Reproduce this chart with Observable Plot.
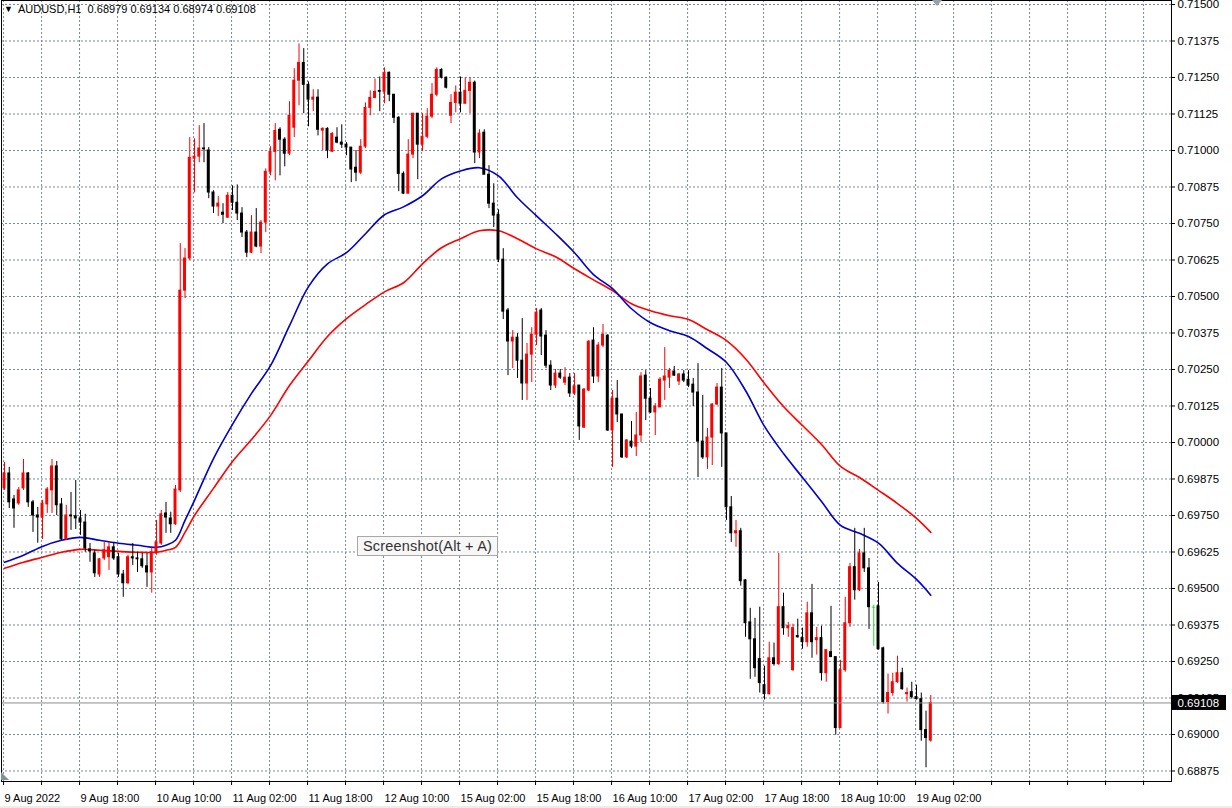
<!DOCTYPE html>
<html><head><meta charset="utf-8">
<script src="https://cdn.jsdelivr.net/npm/d3@7"></script>
<script src="https://cdn.jsdelivr.net/npm/@observablehq/plot@0.6"></script>
<style>
html,body{margin:0;padding:0;background:#fff;}
#wrap{position:relative;width:1232px;height:808px;overflow:hidden;font-family:"Liberation Sans",Arial,sans-serif;}
#hdr{position:absolute;left:4px;top:3px;font-size:11px;color:#000;white-space:pre;}
#hdr .tri{font-size:9px;vertical-align:1px;margin-right:5px;}
#shot{position:absolute;left:357px;top:536px;width:139px;height:18px;border:1px solid #a8a8a8;background:#f7f7f7;font-size:14.5px;letter-spacing:0.2px;color:#333;line-height:18px;text-align:center;}
#shift{position:absolute;left:932px;top:0px;width:0;height:0;border-left:5px solid transparent;border-right:5px solid transparent;border-top:6px solid #9aa0a8;}
#corner{position:absolute;left:1px;top:772px;width:0;height:0;border-bottom:8px solid #8090a0;border-right:8px solid transparent;}
#strip{position:absolute;left:0;top:806px;width:1232px;height:2px;background:#ececec;}
</style></head>
<body><div id="wrap"></div>
<script>
const opens=[0.69843,0.69894,0.69805,0.69791,0.69843,0.69894,0.69795,0.69750,0.69743,0.69788,
0.69836,0.69918,0.69788,0.69668,0.69750,0.69747,0.69740,0.69726,0.69634,0.69620,
0.69548,0.69603,0.69607,0.69641,0.69607,0.69548,0.69518,0.69607,0.69603,0.69600,
0.69576,0.69555,0.69624,0.69654,0.69757,0.69740,0.69720,0.69836,0.70520,0.70630,
0.70972,0.70979,0.71007,0.71000,0.70856,0.70808,0.70787,0.70770,0.70845,0.70821,
0.70784,0.70719,0.70650,0.70719,0.70671,0.70753,0.70927,0.70995,0.71071,0.71037,
0.70989,0.71078,0.71239,0.71300,0.71225,0.71174,0.71181,0.71068,0.71074,0.70996,
0.71044,0.71027,0.71020,0.71010,0.70941,0.70924,0.71013,0.71146,0.71180,0.71204,
0.71201,0.71266,0.71191,0.71112,0.70920,0.70852,0.70986,0.71126,0.71020,0.71047,
0.71116,0.71191,0.71276,0.71249,0.71119,0.71163,0.71198,0.71160,0.71204,0.71232,
0.70993,0.71061,0.70917,0.70818,0.70780,0.70626,0.70452,0.70346,0.70359,0.70280,
0.70202,0.70301,0.70369,0.70452,0.70366,0.70263,0.70195,0.70236,0.70205,0.70222,
0.70168,0.70195,0.70051,0.70178,0.70349,0.70226,0.70332,0.70366,0.70041,0.70150,
0.70096,0.69949,0.70003,0.69986,0.70024,0.70229,0.70150,0.70103,0.70120,0.70212,
0.70222,0.70243,0.70209,0.70233,0.70215,0.70198,0.70171,0.70003,0.69949,0.70017,
0.70130,0.70188,0.70031,0.69778,0.69689,0.69696,0.69528,0.69384,0.69326,0.69258,
0.69169,0.69138,0.69261,0.69241,0.69436,0.69364,0.69220,0.69337,0.69330,0.69316,
0.69415,0.69323,0.69330,0.69210,0.69282,0.69265,0.69022,0.69220,0.69381,0.69573,
0.69494,0.69620,0.69569,0.69436,0.69439,0.69295,0.69111,0.69142,0.69179,0.69210,
0.69138,0.69145,0.69128,0.69121,0.69015,0.68979];
const highs=[0.69932,0.69915,0.69819,0.69846,0.69942,0.69897,0.69802,0.69778,0.69802,0.69846,
0.69942,0.69935,0.69808,0.69785,0.69829,0.69870,0.69767,0.69754,0.69654,0.69631,
0.69603,0.69658,0.69658,0.69658,0.69620,0.69562,0.69614,0.69654,0.69624,0.69620,
0.69620,0.69641,0.69733,0.69767,0.69795,0.69761,0.69853,0.70681,0.70664,0.71044,
0.71040,0.71085,0.71092,0.71010,0.70862,0.70842,0.70818,0.70856,0.70879,0.70882,
0.70804,0.70726,0.70777,0.70801,0.70760,0.70937,0.71013,0.71092,0.71078,0.71044,
0.71167,0.71280,0.71365,0.71349,0.71235,0.71208,0.71208,0.71078,0.71078,0.71061,
0.71078,0.71088,0.71027,0.71010,0.71000,0.71037,0.71163,0.71204,0.71245,0.71252,
0.71283,0.71269,0.71191,0.71116,0.70927,0.71037,0.71126,0.71126,0.71126,0.71143,
0.71229,0.71283,0.71280,0.71252,0.71191,0.71221,0.71252,0.71249,0.71249,0.71238,
0.71071,0.71071,0.70948,0.70886,0.70797,0.70664,0.70459,0.70383,0.70373,0.70424,
0.70339,0.70393,0.70459,0.70459,0.70383,0.70280,0.70250,0.70250,0.70256,0.70236,
0.70236,0.70195,0.70185,0.70349,0.70393,0.70342,0.70404,0.70369,0.70178,0.70212,
0.70096,0.70010,0.70072,0.70103,0.70239,0.70246,0.70185,0.70133,0.70222,0.70325,
0.70253,0.70260,0.70236,0.70246,0.70246,0.70219,0.70270,0.70161,0.70048,0.70133,
0.70202,0.70253,0.70031,0.69815,0.69733,0.69706,0.69531,0.69432,0.69398,0.69436,
0.69234,0.69316,0.69313,0.69620,0.69484,0.69384,0.69378,0.69395,0.69364,0.69453,
0.69514,0.69367,0.69371,0.69289,0.69439,0.69265,0.69254,0.69470,0.69586,0.69706,
0.69634,0.69706,0.69603,0.69443,0.69521,0.69299,0.69207,0.69210,0.69268,0.69227,
0.69159,0.69179,0.69169,0.69142,0.69080,0.69134];
const lows=[0.69836,0.69774,0.69706,0.69785,0.69836,0.69778,0.69692,0.69655,0.69668,0.69757,
0.69757,0.69750,0.69665,0.69665,0.69699,0.69702,0.69682,0.69624,0.69590,0.69538,
0.69538,0.69596,0.69562,0.69596,0.69538,0.69470,0.69514,0.69579,0.69555,0.69569,
0.69504,0.69484,0.69614,0.69648,0.69689,0.69689,0.69716,0.69829,0.70493,0.70623,
0.70855,0.70958,0.70958,0.70835,0.70784,0.70774,0.70750,0.70767,0.70794,0.70760,
0.70702,0.70633,0.70647,0.70667,0.70647,0.70719,0.70913,0.70896,0.70913,0.70944,
0.70982,0.71044,0.71153,0.71126,0.71081,0.71133,0.71050,0.71000,0.70972,0.70993,
0.71023,0.71007,0.70982,0.70890,0.70893,0.70917,0.71007,0.71119,0.71177,0.71133,
0.71160,0.71167,0.71092,0.70859,0.70849,0.70852,0.70972,0.70900,0.70996,0.71040,
0.71109,0.71184,0.71245,0.71211,0.71092,0.71129,0.71129,0.71160,0.71126,0.70955,
0.70972,0.70917,0.70801,0.70736,0.70616,0.70421,0.70229,0.70253,0.70219,0.70144,
0.70144,0.70205,0.70332,0.70298,0.70253,0.70178,0.70185,0.70216,0.70195,0.70154,
0.70161,0.70007,0.70048,0.70174,0.70202,0.70205,0.70325,0.70038,0.69915,0.70068,
0.69945,0.69945,0.69979,0.69952,0.70000,0.70075,0.70099,0.70024,0.70120,0.70144,
0.70185,0.70226,0.70195,0.70205,0.70188,0.70123,0.69880,0.69942,0.69908,0.69921,
0.70127,0.69915,0.69733,0.69658,0.69641,0.69508,0.69333,0.69189,0.69196,0.69142,
0.69118,0.69135,0.69234,0.69237,0.69340,0.69333,0.69217,0.69330,0.69292,0.69299,
0.69261,0.69272,0.69183,0.69179,0.69265,0.68998,0.69022,0.69213,0.69367,0.69460,
0.69490,0.69555,0.69360,0.69302,0.69289,0.69104,0.69070,0.69131,0.69176,0.69152,
0.69111,0.69121,0.69118,0.68977,0.68886,0.68974];
const closes=[0.69894,0.69795,0.69774,0.69836,0.69894,0.69795,0.69750,0.69743,0.69791,0.69839,
0.69918,0.69785,0.69668,0.69750,0.69747,0.69740,0.69726,0.69637,0.69627,0.69552,
0.69600,0.69631,0.69641,0.69603,0.69548,0.69518,0.69607,0.69603,0.69600,0.69576,
0.69555,0.69624,0.69658,0.69754,0.69743,0.69720,0.69839,0.70520,0.70630,0.70975,
0.70979,0.71007,0.71004,0.70856,0.70808,0.70818,0.70780,0.70845,0.70821,0.70784,
0.70719,0.70650,0.70719,0.70671,0.70753,0.70927,0.70995,0.71067,0.71037,0.70989,
0.71119,0.71239,0.71300,0.71225,0.71174,0.71181,0.71071,0.71074,0.71000,0.71057,
0.71027,0.71020,0.71010,0.70935,0.70924,0.71013,0.71146,0.71180,0.71201,0.71201,
0.71266,0.71191,0.71112,0.70920,0.70852,0.70986,0.71126,0.71020,0.71047,0.71116,
0.71191,0.71276,0.71249,0.71215,0.71163,0.71198,0.71160,0.71204,0.71232,0.70993,
0.71058,0.70917,0.70818,0.70777,0.70626,0.70448,0.70346,0.70359,0.70280,0.70202,
0.70301,0.70369,0.70445,0.70363,0.70263,0.70195,0.70236,0.70222,0.70222,0.70168,
0.70192,0.70055,0.70181,0.70345,0.70226,0.70332,0.70369,0.70041,0.70150,0.70096,
0.69949,0.70007,0.69986,0.70024,0.70226,0.70150,0.70103,0.70123,0.70215,0.70226,
0.70246,0.70229,0.70233,0.70212,0.70195,0.70171,0.70003,0.69949,0.70017,0.70130,
0.70188,0.70031,0.69778,0.69689,0.69696,0.69525,0.69381,0.69326,0.69227,0.69176,
0.69138,0.69261,0.69241,0.69436,0.69364,0.69371,0.69364,0.69333,0.69316,0.69415,
0.69316,0.69330,0.69210,0.69289,0.69265,0.69022,0.69220,0.69381,0.69573,0.69494,
0.69620,0.69569,0.69436,0.69436,0.69292,0.69111,0.69142,0.69179,0.69210,0.69155,
0.69142,0.69128,0.69121,0.69015,0.68988,0.69108];

const maIndex=[0,4,8,12,16,20,24,28,32,34,36,38,40,44,48,52,56,60,64,68,72,76,80,84,88,92,96,100,104,108,112,116,120,124,128,132,136,140,144,148,152,156,160,164,168,172,176,180,184,188,192,195];
const blueMA=[0.69590,0.69614,0.69644,0.69665,0.69675,0.69665,0.69655,0.69648,0.69641,0.69648,0.69665,0.69733,0.69802,0.69945,0.70062,0.70168,0.70263,0.70400,0.70534,0.70612,0.70650,0.70715,0.70780,0.70807,0.70845,0.70903,0.70930,0.70941,0.70913,0.70838,0.70776,0.70715,0.70650,0.70575,0.70527,0.70458,0.70410,0.70383,0.70363,0.70321,0.70274,0.70178,0.70055,0.69962,0.69880,0.69798,0.69716,0.69689,0.69655,0.69586,0.69531,0.69477];
const redMA=[0.69569,0.69590,0.69607,0.69624,0.69634,0.69631,0.69627,0.69624,0.69624,0.69631,0.69641,0.69692,0.69750,0.69843,0.69935,0.70010,0.70092,0.70195,0.70280,0.70363,0.70424,0.70472,0.70516,0.70547,0.70612,0.70667,0.70698,0.70725,0.70725,0.70698,0.70663,0.70636,0.70595,0.70557,0.70520,0.70475,0.70451,0.70434,0.70421,0.70386,0.70349,0.70287,0.70202,0.70123,0.70058,0.69993,0.69918,0.69880,0.69836,0.69791,0.69740,0.69692];

const timeLabels=["9 Aug 2022","9 Aug 18:00","10 Aug 10:00","11 Aug 02:00","11 Aug 18:00","12 Aug 10:00","15 Aug 02:00","15 Aug 18:00","16 Aug 10:00","17 Aug 02:00","17 Aug 18:00","18 Aug 10:00","19 Aug 02:00"];
const timeLabelIndex=[0,16,32,48,64,80,96,112,128,144,160,176,192];
const priceLabels=["0.68875","0.69000","0.69125","0.69250","0.69375","0.69500","0.69625","0.69750","0.69875","0.70000","0.70125","0.70250","0.70375","0.70500","0.70625","0.70750","0.70875","0.71000","0.71125","0.71250","0.71375","0.71500"];
const symbolText="AUDUSD,H1";

const candles=opens.map((o,i)=>({i,o,h:highs[i],l:lows[i],c:closes[i]}));
const col=d=>d.c>d.o?"#ff0000":(d.c<d.o?"#000000":"#22dd22");
const priceTicks=priceLabels.map(Number);
const gridIdx=d3.range(0,246,8);
const X0=-0.632, X1=245.68, Y0=0.68839, Y1=0.715137;
const last=candles[candles.length-1];
const blueRows=maIndex.map((i,k)=>({i,v:blueMA[k]}));
const redRows=maIndex.map((i,k)=>({i,v:redMA[k]}));
const pxX=(X1-X0)/1170, pxY=(Y1-Y0)/781;

const chart=Plot.plot({
  width:1232,height:808,
  marginLeft:1,marginRight:61,marginTop:0,marginBottom:27,
  x:{domain:[X0,X1],axis:null},
  y:{domain:[Y0,Y1],axis:null},
  color:{type:"identity"},
  style:{fontFamily:"Liberation Sans, Arial, sans-serif",fontSize:"11px",background:"#fff",overflow:"visible"},
  marks:[
    Plot.ruleY(priceTicks,{stroke:"#7d8797",strokeDasharray:"2,2",strokeWidth:1}),
    Plot.ruleX(gridIdx,{x:d=>d-0.2,stroke:"#7d8797",strokeDasharray:"2,2",strokeWidth:1}),
    Plot.line(redRows,{x:"i",y:"v",stroke:"#ff0000",strokeWidth:1.6,curve:"catmull-rom"}),
    Plot.line(blueRows,{x:"i",y:"v",stroke:"#0000cc",strokeWidth:1.6,curve:"catmull-rom"}),
    Plot.ruleX(candles,{x:"i",y1:"l",y2:"h",stroke:col,strokeWidth:1}),
    Plot.rect(candles.filter(d=>d.c!==d.o),{x1:d=>d.i-0.31,x2:d=>d.i+0.31,y1:"o",y2:"c",fill:col,insetTop:-0.5,insetBottom:-0.5}),
    Plot.ruleY(candles.filter(d=>d.c===d.o),{y:"c",x1:d=>d.i-0.31,x2:d=>d.i+0.31,stroke:col}),
    Plot.ruleY([last.c],{stroke:"#8c8c8c",strokeWidth:1}),
    Plot.frame({stroke:"#000",strokeWidth:1}),
    Plot.ruleX(gridIdx,{x:d=>d-0.2,y1:Y0,y2:Y0-4*pxY,stroke:"#000"}),
    Plot.text(timeLabels,{x:(d,k)=>timeLabelIndex[k]-0.2,y:Y0,dy:17,dx:1,text:d=>d,textAnchor:"start",fill:"#000",fontSize:11}),
    Plot.ruleY(priceTicks,{y:d=>d,x1:X1,x2:X1+4*pxX,stroke:"#000"}),
    Plot.text(priceLabels,{x:X1,y:d=>+d,text:d=>d,dx:6,textAnchor:"start",fill:"#000",fontSize:11.5}),
    Plot.rect([last],{x1:X1,x2:X1+55*pxX,y1:d=>d.c-7.5*pxY,y2:d=>d.c+7.5*pxY,fill:"#000"}),
    Plot.text([last],{x:X1,y:"c",text:d=>d.c.toFixed(5),dx:6,textAnchor:"start",fill:"#fff",fontSize:11.5})
  ]
});
const wrap=document.getElementById("wrap");
wrap.appendChild(chart);
const hdr=document.createElement("div");hdr.id="hdr";
hdr.innerHTML='<span class="tri">\u25BC</span>'+symbolText+'  '+[last.o,last.h,last.l,last.c].map(v=>v.toFixed(5)).join(" ");
wrap.appendChild(hdr);
const shot=document.createElement("div");shot.id="shot";shot.textContent="Screenshot(Alt + A)";wrap.appendChild(shot);
const sh=document.createElement("div");sh.id="shift";wrap.appendChild(sh);
const cn=document.createElement("div");cn.id="corner";wrap.appendChild(cn);
const st=document.createElement("div");st.id="strip";wrap.appendChild(st);
</script></body></html>
